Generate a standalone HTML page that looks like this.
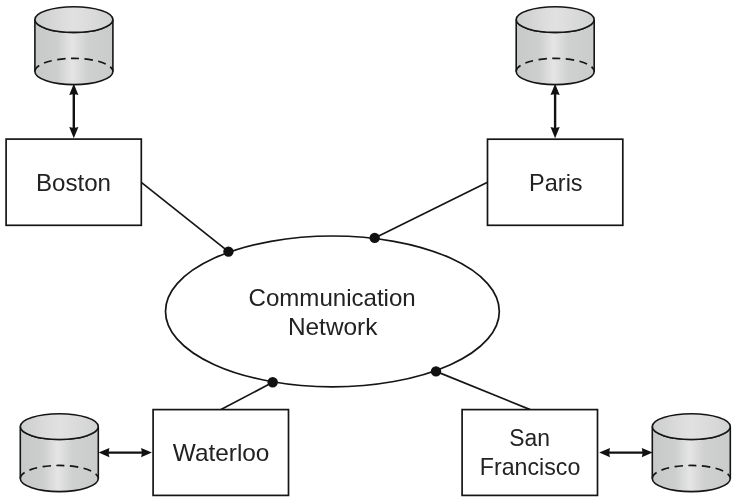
<!DOCTYPE html>
<html><head><meta charset="utf-8">
<style>
html,body{margin:0;padding:0;background:#fff;}
body{width:733px;height:497px;overflow:hidden;}
svg{display:block;}
text{font-family:"Liberation Sans",sans-serif;fill:#222;}
</style></head><body>
<svg width="733" height="497" viewBox="0 0 733 497">
<defs>
<linearGradient id="g" x1="0" x2="1" y1="0" y2="0">
<stop offset="0" stop-color="#c7c8c8"/><stop offset="0.29" stop-color="#cdcece"/><stop offset="0.48" stop-color="#e5e5e5"/><stop offset="0.67" stop-color="#cfd0d0"/><stop offset="1" stop-color="#cacbcb"/>
</linearGradient>
<linearGradient id="gt" x1="0" x2="1" y1="0" y2="0">
<stop offset="0" stop-color="#cccdcd"/><stop offset="0.35" stop-color="#dcdcdc"/><stop offset="0.5" stop-color="#e1e1e1"/><stop offset="0.65" stop-color="#dddddd"/><stop offset="1" stop-color="#d1d2d2"/>
</linearGradient>
<g id="cyl">
<path d="M0,13.05 L0,65 A39,13.1 0 0 0 78,65 L78,13.05 A39,12.85 0 0 1 0,13.05 Z" fill="url(#g)" stroke="#151515" stroke-width="1.6"/>
<ellipse cx="39" cy="13.05" rx="39" ry="12.85" fill="url(#gt)" stroke="#151515" stroke-width="1.6"/>
<path d="M0,65 A39,13.1 0 0 1 78,65" fill="none" stroke="#151515" stroke-width="1.7" stroke-dasharray="8.2 5.4" stroke-dashoffset="0.4"/>
</g>

</defs>
<rect width="733" height="497" fill="#fff"/>
<!-- lines -->
<g stroke="#151515" stroke-width="1.7" fill="none">
<line x1="141.3" y1="182.4" x2="228.45" y2="251.6"/>
<line x1="487.5" y1="182.3" x2="374.7" y2="237.9"/>
<line x1="221" y1="409.6" x2="272.7" y2="382.3"/>
<line x1="530.2" y1="409.6" x2="436" y2="371.4"/>
<ellipse cx="332.4" cy="311.4" rx="166.9" ry="75.4"/>
<rect x="6.1" y="139.1" width="135.2" height="86.2" fill="#fff"/>
<rect x="487.5" y="139.2" width="135.3" height="86.1" fill="#fff"/>
<rect x="153.1" y="409.6" width="135.4" height="85.8" fill="#fff"/>
<rect x="462.1" y="409.6" width="135.4" height="85.8" fill="#fff"/>
</g>
<g fill="#111">
<circle cx="228.45" cy="251.6" r="5.2"/>
<circle cx="374.7" cy="237.9" r="5.2"/>
<circle cx="272.7" cy="382.3" r="5.2"/>
<circle cx="436" cy="371.4" r="5.2"/>
</g>
<use href="#cyl" x="34.9" y="6.5"/>
<use href="#cyl" x="516.2" y="6.5"/>
<use href="#cyl" x="20.3" y="413.55"/>
<use href="#cyl" x="652.3" y="413.55"/>
<g transform="translate(73.8,83.8)"><line x1="0" y1="6" x2="0" y2="48.5" stroke="#111" stroke-width="2.4"/><path d="M0,0 L-4.6,11.2 Q0,9.6 4.6,11.2 Z" fill="#111"/><path d="M0,54.5 L-4.6,43.3 Q0,44.9 4.6,43.3 Z" fill="#111"/></g>
<g transform="translate(555.1,83.8)"><line x1="0" y1="6" x2="0" y2="48.5" stroke="#111" stroke-width="2.4"/><path d="M0,0 L-4.6,11.2 Q0,9.6 4.6,11.2 Z" fill="#111"/><path d="M0,54.5 L-4.6,43.3 Q0,44.9 4.6,43.3 Z" fill="#111"/></g>
<g transform="translate(98.6,452.6) rotate(-90)"><line x1="0" y1="6" x2="0" y2="47.3" stroke="#111" stroke-width="2.4"/><path d="M0,0 L-4.6,10.8 Q0,9.2 4.6,10.8 Z" fill="#111"/><path d="M0,53.3 L-4.6,42.5 Q0,44.1 4.6,42.5 Z" fill="#111"/></g>
<g transform="translate(599.2,452.6) rotate(-90)"><line x1="0" y1="6" x2="0" y2="47.4" stroke="#111" stroke-width="2.4"/><path d="M0,0 L-4.6,10.8 Q0,9.2 4.6,10.8 Z" fill="#111"/><path d="M0,53.4 L-4.6,42.6 Q0,44.2 4.6,42.6 Z" fill="#111"/></g>
<g font-size="23.4" opacity="0.999">
<text transform="translate(35.94,190.8) scale(1.0310,1)">Boston</text>
<text transform="translate(529.09,190.8) scale(1.0040,1)">Paris</text>
<text transform="translate(248.51,305.7) scale(1.0291,1)">Communication</text>
<text transform="translate(287.91,334.5) scale(1.0436,1)">Network</text>
<text transform="translate(172.84,460.7) scale(1.0415,1)">Waterloo</text>
<text transform="translate(509.18,445.8) scale(0.9781,1)">San</text>
<text transform="translate(479.82,475.0) scale(0.9909,1)">Francisco</text>
</g>
</svg>
</body></html>
